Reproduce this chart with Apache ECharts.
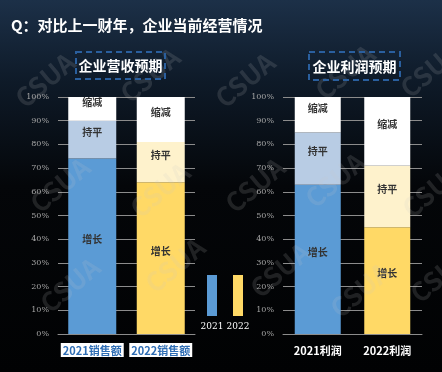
<!DOCTYPE html>
<html><head><meta charset="utf-8">
<script src="https://cdn.jsdelivr.net/npm/echarts@6/dist/echarts.min.js"></script>
<style>html,body{margin:0;padding:0;background:#05080c;}#c{width:442px;height:372px;}</style>
</head><body><div id="c"></div>
<script>
// ---- data ----
const revCategories = ['2021销售额', '2022销售额'];
const profitCategories = ['2021利润', '2022利润'];
const legendYears = ['2021', '2022'];
const segmentNames = ['增长', '持平', '缩减'];
const revGrowth = [74, 64];
const revFlat = [16, 17];
const revDecline = [10, 19];
const profitGrowth = [63, 45];
const profitFlat = [22, 26];
const profitDecline = [15, 29];
const legendSwatch = [1, 1];
const mainTitle = 'Q：对比上一财年，企业当前经营情况';
const revTitle = '企业营收预期';
const profitTitle = '企业利润预期';
const watermark = 'CSUA';

// ---- styles ----
const FONT = '"Noto Sans CJK SC","Noto Sans",sans-serif';
const darkCols = ['#5b9bd5', '#ffd966'];
const midCols = ['#b8cce4', '#fef2cc'];
const topCol = '#ffffff';

const chart = echarts.init(document.getElementById('c'), null, {renderer: 'canvas'});

function yAxis(gi) {
  return {
    type: 'value', gridIndex: gi, min: 0, max: 100, interval: 10,
    axisLine: {show: false}, axisTick: {show: false},
    splitLine: {lineStyle: {color: '#8c8c8c', width: 1}},
    axisLabel: {formatter: '{value}%', color: '#a6a6a6', fontSize: 8, fontFamily: '"DejaVu Serif",serif', margin: 9}
  };
}

function stackSeries(gi, growth, flat, decline, barWidth) {
  const sets = [growth, flat, decline];
  return sets.map((arr, si) => ({
    type: 'bar', name: segmentNames[si], stack: 's' + gi,
    xAxisIndex: gi, yAxisIndex: gi, barWidth: barWidth,
    data: arr.map((v, i) => ({
      value: v,
      itemStyle: {color: si === 0 ? darkCols[i] : si === 1 ? midCols[i] : topCol}
    })),
    label: {
      show: true, position: 'inside', offset: [0, -7],
      formatter: segmentNames[si], color: '#333', fontSize: 10, fontWeight: 'bold', fontFamily: FONT
    },
    z: 3
  }));
}

// watermark lattice
const wm = [];
const wmPos = [[45,80],[150,75],[245,80],[345,72],[430,70],
               [60,185],[160,190],[255,185],[335,180],[432,190],
               [70,285],[175,265],[280,270],[360,290],[440,275]];
wmPos.forEach(p => wm.push({
  type: 'text', x: p[0], y: p[1], rotation: Math.PI / 4.5, z: 50,
  style: {text: watermark, fill: 'rgba(200,200,200,0.15)', font: 'bold 26px ' + FONT, textAlign: 'center', textVerticalAlign: 'middle'},
  silent: true
}));

const option = {
  animation: false,
  backgroundColor: {
    type: 'linear', x: 0, y: 0, x2: 0, y2: 1,
    colorStops: [
      {offset: 0, color: '#1c3048'},
      {offset: 0.22, color: '#0e1a28'},
      {offset: 0.5, color: '#040609'},
      {offset: 1, color: '#010203'}
    ]
  },
  grid: [
    {left: 58, right: 247, top: 97, bottom: 38},
    {left: 283, right: 20, top: 97, bottom: 38},
    {left: 199, width: 52, top: 275, bottom: 56}
  ],
  xAxis: [
    {type: 'category', gridIndex: 0, data: revCategories,
     axisLine: {lineStyle: {color: '#8c8c8c'}}, axisTick: {show: false},
     axisLabel: {interval: 0, hideOverlap: false, color: '#2e6db4', fontSize: 11, fontWeight: 'bold', fontFamily: FONT,
       backgroundColor: '#ffffff', padding: [2, 2, 1, 2], margin: 9}},
    {type: 'category', gridIndex: 1, data: profitCategories,
     axisLine: {lineStyle: {color: '#8c8c8c'}}, axisTick: {show: false},
     axisLabel: {interval: 0, hideOverlap: false, color: '#ffffff', fontSize: 11, fontWeight: 'bold', fontFamily: FONT, margin: 11}},
    {type: 'category', gridIndex: 2, data: legendYears,
     axisLine: {show: false}, axisTick: {show: false},
     axisLabel: {interval: 0, hideOverlap: false, color: '#ffffff', fontSize: 9, fontFamily: '"DejaVu Serif",serif', margin: 6}}
  ],
  yAxis: [yAxis(0), yAxis(1),
    {type: 'value', gridIndex: 2, min: 0, max: 1, show: false, splitLine: {show: false}}],
  series: [
    ...stackSeries(0, revGrowth, revFlat, revDecline, 48),
    ...stackSeries(1, profitGrowth, profitFlat, profitDecline, 46),
    {type: 'bar', xAxisIndex: 2, yAxisIndex: 2, barWidth: 10,
     data: legendSwatch.map((v, i) => ({value: v, itemStyle: {color: darkCols[i]}}))}
  ],
  graphic: [
    ...wm,
    {type: 'text', left: 11, top: 18, z: 60,
     style: {text: mainTitle, fill: '#ffffff', font: 'bold 15px ' + FONT,
       shadowColor: 'rgba(0,0,0,0.6)', shadowBlur: 3}},
    {type: 'rect', shape: {x: 76, y: 52, width: 89, height: 27}, z: 55,
     style: {fill: 'rgba(0,0,0,0)', stroke: '#2a5f9e', lineWidth: 2, lineDash: [6, 4]}},
    {type: 'text', x: 120.5, y: 66, z: 60,
     style: {text: revTitle, fill: '#ffffff', font: 'bold 14px ' + FONT, textAlign: 'center', textVerticalAlign: 'middle'}},
    {type: 'rect', shape: {x: 309, y: 52, width: 91, height: 28}, z: 55,
     style: {fill: 'rgba(0,0,0,0)', stroke: '#2a5f9e', lineWidth: 2, lineDash: [6, 4]}},
    {type: 'text', x: 354.5, y: 67, z: 60,
     style: {text: profitTitle, fill: '#ffffff', font: 'bold 14px ' + FONT, textAlign: 'center', textVerticalAlign: 'middle'}}
  ]
};
chart.setOption(option);
</script>
</body></html>
